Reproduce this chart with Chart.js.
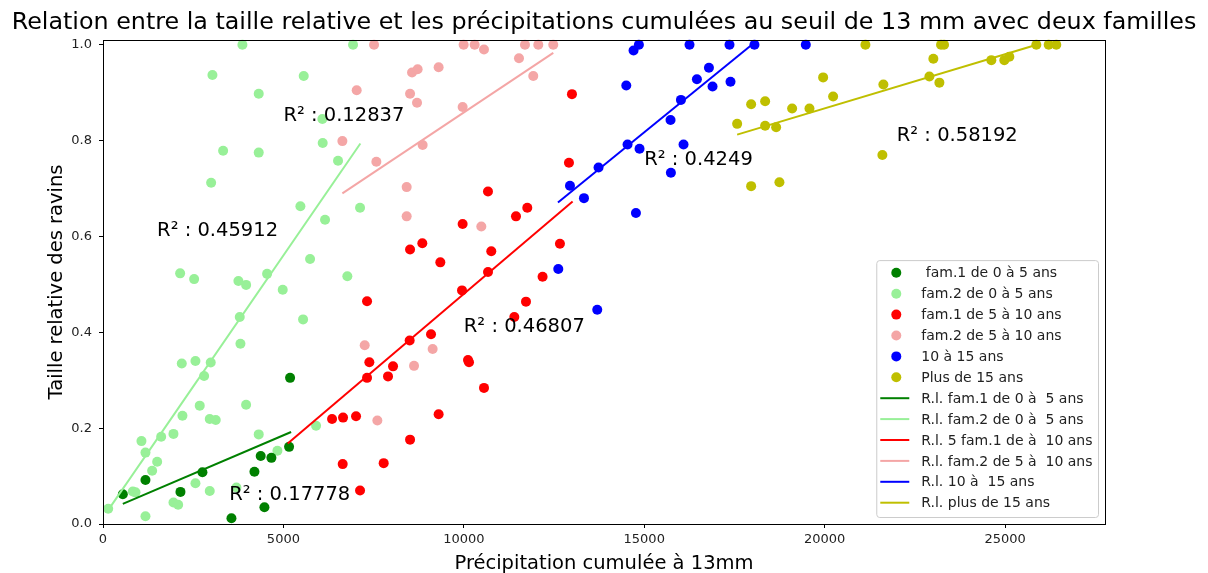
<!DOCTYPE html>
<html>
<head>
<meta charset="utf-8">
<script src="https://cdn.jsdelivr.net/npm/chart.js@4.4.1/dist/chart.umd.min.js"></script>
<style>
  html, body { margin: 0; padding: 0; background: #ffffff; }
  #wrap { width: 1208px; height: 573px; position: relative; }
</style>
</head>
<body>
<div id="wrap"><canvas id="chart" width="1208" height="573"></canvas></div>
<script>
// Précipitation cumulée (mm) vs taille relative des ravins, par classe d'âge / famille
const fam1Young = [[549,0.062],[1177,0.092],[2147,0.067],[2756,0.108],[3560,0.012],[4197,0.109],[4371,0.142],[4474,0.035],[4667,0.138],[5157,0.161],[5185,0.305]];
const fam2Young = [[3864,1.0],[6930,1.0],[3033,0.937],[5563,0.935],[4316,0.898],[6080,0.845],[6089,0.795],[3329,0.779],[4316,0.775],[6514,0.758],[2997,0.712],[5471,0.663],[7124,0.660],[6154,0.635],[5739,0.553],[2138,0.523],[2526,0.511],[3753,0.507],[3966,0.499],[4548,0.522],[6772,0.517],[4981,0.489],[5545,0.427],[3790,0.432],[3809,0.376],[2183,0.335],[2562,0.340],[2986,0.337],[2802,0.309],[2681,0.247],[3966,0.249],[2202,0.226],[2958,0.219],[3125,0.217],[5905,0.205],[4316,0.187],[1953,0.188],[1066,0.173],[1612,0.182],[1177,0.149],[1501,0.130],[1362,0.111],[4834,0.153],[2562,0.085],[2958,0.069],[3698,0.076],[826,0.068],[900,0.066],[1953,0.045],[2083,0.040],[144,0.032],[1177,0.016]];
const fam1Mid = [[7318,0.465],[7382,0.3375],[7318,0.305],[8038,0.329],[7899,0.308],[6348,0.219],[6653,0.222],[7013,0.225],[6643,0.125],[7779,0.127],[7124,0.070],[9950,0.4875],[11723,0.464],[11399,0.432],[9091,0.396],[8499,0.383],[10116,0.342],[10144,0.3375],[10559,0.284],[9302,0.229],[8510,0.176],[12997,0.897],[12914,0.754],[10670,0.694],[11759,0.660],[11446,0.642],[9967,0.626],[8510,0.573],[8850,0.586],[10761,0.569],[9349,0.546],[12664,0.585],[12183,0.516],[10670,0.526]];
const fam2Mid = [[7253,0.373],[7604,0.216],[9136,0.365],[8620,0.330],[9995,1.0],[10300,1.0],[10559,0.990],[11695,1.0],[12064,1.0],[12479,1.0],[11529,0.972],[11925,0.935],[8565,0.942],[8720,0.949],[9302,0.953],[8510,0.898],[8703,0.879],[9967,0.870],[8859,0.791],[8416,0.703],[8416,0.642],[10485,0.621],[7512,1.0],[7031,0.905],[6634,0.799],[7576,0.756]];
const age10to15 = [[14704,0.988],[14852,1.0],[16255,1.0],[17363,1.0],[18055,1.0],[19478,1.0],[14502,0.915],[16793,0.952],[16460,0.928],[16893,0.913],[17391,0.923],[16017,0.885],[15729,0.843],[14538,0.792],[16089,0.792],[14870,0.783],[15739,0.733],[13734,0.744],[12942,0.706],[13330,0.680],[14770,0.649],[12618,0.532],[13698,0.447]];
const over15 = [[17963,0.876],[18351,0.882],[17575,0.835],[18351,0.831],[18656,0.828],[17963,0.705],[18747,0.713],[21130,1.0],[23226,1.0],[23309,1.0],[25867,1.0],[26209,1.0],[26420,1.0],[23013,0.971],[24620,0.968],[24980,0.968],[25119,0.975],[19958,0.932],[22903,0.934],[23180,0.921],[21628,0.917],[20235,0.892],[19099,0.867],[19579,0.867],[21600,0.770]];

// Droites de régression linéaire (extrémités)
const regFam1Young = [[549,0.042],[5213,0.192]];
const regFam2Young = [[144,0.029],[7133,0.794]];
const regFam1Mid = [[5119,0.168],[13015,0.673]];
const regFam2Mid = [[6634,0.690],[12479,0.983]];
const reg10to15 = [[12609,0.671],[17982,1.0]];
const regOver15 = [[17575,0.8125],[25877,1.0]];

// Coefficients de détermination et leur position (x, y)
const r2Labels = [
  [5000, 0.84, 'R² : 0.12837'],
  [1500, 0.60, 'R² : 0.45912'],
  [3500, 0.05, 'R² : 0.17778'],
  [10000, 0.40, 'R² : 0.46807'],
  [15000, 0.75, 'R² : 0.4249'],
  [22000, 0.80, 'R² : 0.58192']
];

const xTicks = [0, 5000, 10000, 15000, 20000, 25000];
const yTicks = [0.0, 0.2, 0.4, 0.6, 0.8, 1.0];

const FONT = "'DejaVu Sans', sans-serif";
const toPts = arr => arr.map(p => ({x: p[0], y: p[1]}));

function scatterSet(label, pts, color) {
  return {type: 'scatter', label, data: toPts(pts), backgroundColor: color, borderColor: color,
    pointRadius: 5, pointBorderWidth: 0, pointHoverRadius: 5, clip: false, order: 2};
}
function lineSet(label, pts, color) {
  return {type: 'scatter', label, data: toPts(pts), showLine: true, borderColor: color,
    backgroundColor: color, borderWidth: 2, pointRadius: 0, pointHoverRadius: 0, order: 1, clip: false};
}

const datasets = [
  scatterSet(' fam.1 de 0 à 5 ans', fam1Young, '#008000'),
  scatterSet('fam.2 de 0 à 5 ans', fam2Young, '#98f098'),
  scatterSet('fam.1 de 5 à 10 ans', fam1Mid, '#ff0000'),
  scatterSet('fam.2 de 5 à 10 ans', fam2Mid, '#f4a6a6'),
  scatterSet('10 à 15 ans', age10to15, '#0000ff'),
  scatterSet('Plus de 15 ans', over15, '#bfbf00'),
  lineSet('R.l. fam.1 de 0 à  5 ans', regFam1Young, '#008000'),
  lineSet('R.l. fam.2 de 0 à  5 ans', regFam2Young, '#98f098'),
  lineSet('R.l. 5 fam.1 de à  10 ans', regFam1Mid, '#ff0000'),
  lineSet('R.l. fam.2 de 5 à  10 ans', regFam2Mid, '#f4a6a6'),
  lineSet('R.l. 10 à  15 ans', reg10to15, '#0000ff'),
  lineSet('R.l. plus de 15 ans', regOver15, '#bfbf00')
];

const decorPlugin = {
  id: 'decor',
  afterDatasetsDraw(chart) {
    const {ctx, chartArea: a, scales: {x, y}} = chart;
    ctx.save();
    // cadre
    ctx.strokeStyle = '#000';
    ctx.lineWidth = 1;
    ctx.strokeRect(a.left + 0.5, a.top + 0.5, a.right - a.left, a.bottom - a.top);

    // annotations R²
    ctx.fillStyle = '#000';
    ctx.font = `19.5px ${FONT}`;
    ctx.textAlign = 'left';
    ctx.textBaseline = 'alphabetic';
    r2Labels.forEach(([vx, vy, t]) => ctx.fillText(t, x.getPixelForValue(vx), y.getPixelForValue(vy)));

    // titre et titres d'axes
    ctx.font = `23.8px ${FONT}`;
    ctx.textAlign = 'center';
    ctx.fillText('Relation entre la taille relative et les précipitations cumulées au seuil de 13 mm avec deux familles', (a.left + a.right) / 2, 29);
    ctx.font = `19.5px ${FONT}`;
    ctx.fillText('Précipitation cumulée à 13mm', (a.left + a.right) / 2, 569);
    ctx.save();
    ctx.translate(62, (a.top + a.bottom) / 2);
    ctx.rotate(-Math.PI / 2);
    ctx.fillText('Taille relative des ravins', 0, 0);
    ctx.restore();

    // légende
    ctx.font = `14px ${FONT}`;
    const rowH = 20.9;
    const sets = chart.data.datasets;
    let maxW = 0;
    sets.forEach(d => { maxW = Math.max(maxW, ctx.measureText(d.label).width); });
    const right = a.right - 7, bottom = a.bottom - 7;
    const left = right - (4 + 29 + 12 + maxW + 5.5);
    const top = bottom - (12.7 + 14.3 + rowH * (sets.length - 1));
    ctx.fillStyle = 'rgba(255,255,255,0.8)';
    ctx.strokeStyle = '#cccccc';
    ctx.lineWidth = 1;
    ctx.beginPath();
    ctx.roundRect(left + 0.5, top + 0.5, right - left, bottom - top, 3);
    ctx.fill();
    ctx.stroke();
    ctx.textAlign = 'left';
    ctx.textBaseline = 'middle';
    sets.forEach((d, i) => {
      const cy = top + 12.7 + i * rowH;
      const hx = left + 4;
      if (d.showLine) {
        ctx.strokeStyle = d.borderColor;
        ctx.lineWidth = 2;
        ctx.beginPath();
        ctx.moveTo(hx, cy);
        ctx.lineTo(hx + 29, cy);
        ctx.stroke();
      } else {
        ctx.fillStyle = d.backgroundColor;
        ctx.beginPath();
        ctx.arc(hx + 16, cy, 5, 0, Math.PI * 2);
        ctx.fill();
      }
      ctx.fillStyle = '#222';
      ctx.fillText(d.label, hx + 29 + 12, cy + 1);
    });
    ctx.restore();
  }
};

new Chart(document.getElementById('chart'), {
  data: {datasets},
  plugins: [decorPlugin],
  options: {
    responsive: false,
    animation: false,
    devicePixelRatio: 1,
    layout: {padding: {top: 40, right: 103, left: 0, bottom: 0}},
    plugins: {legend: {display: false}, title: {display: false}, tooltip: {enabled: false}},
    scales: {
      x: {
        type: 'linear', position: 'bottom', min: 0, max: 27770,
        afterFit: s => { s.height = 49; },
        afterBuildTicks: s => { s.ticks = xTicks.map(v => ({value: v})); },
        ticks: {callback: v => String(v), font: {family: FONT, size: 13}, color: '#222', padding: 4, maxRotation: 0},
        grid: {drawOnChartArea: false, drawTicks: true, tickLength: 4, tickColor: '#000', tickWidth: 1},
        border: {display: true, color: '#000', width: 1}
      },
      y: {
        type: 'linear', position: 'left', min: 0, max: 1.01,
        afterFit: s => { s.width = 103; },
        afterBuildTicks: s => { s.ticks = yTicks.map(v => ({value: v})); },
        ticks: {callback: v => Number(v).toFixed(1), font: {family: FONT, size: 13}, color: '#222', padding: 7},
        grid: {drawOnChartArea: false, drawTicks: true, tickLength: 4, tickColor: '#000', tickWidth: 1},
        border: {display: true, color: '#000', width: 1}
      }
    }
  }
});
</script>
</body>
</html>
